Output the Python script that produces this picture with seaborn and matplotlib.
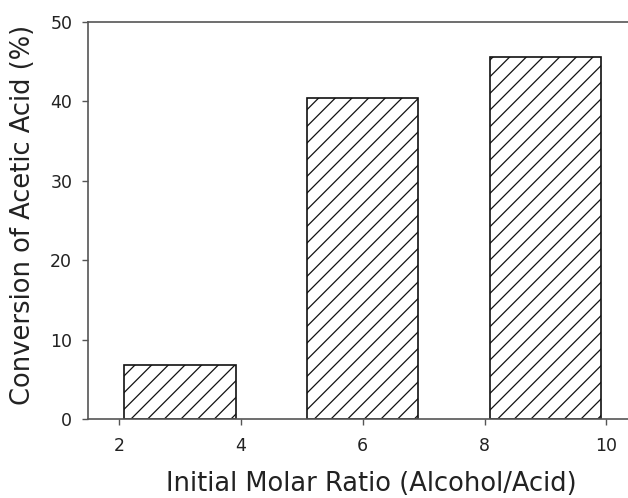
import matplotlib
matplotlib.use("Agg")
import matplotlib.pyplot as plt
import seaborn as sns
import pandas as pd

ratio = [3, 6, 9]
conversion = [6.8, 40.4, 45.6]
xticks = [2, 4, 6, 8, 10]
yticks = [0, 10, 20, 30, 40, 50]

sns.set_style("white")
plt.rcParams['font.family'] = ['DejaVu Sans']
plt.rcParams['hatch.linewidth'] = 0.9
plt.rcParams['hatch.color'] = '#222222'

df = pd.DataFrame({"ratio": ratio, "conversion": conversion})

fig = plt.figure(figsize=(6.28, 4.98), dpi=100)
ax = fig.add_axes([0.140, 0.1586, 0.903, 0.797])

sns.barplot(data=df, x="ratio", y="conversion", native_scale=True, width=0.61,
            color="white", saturation=1, edgecolor="#111111", linewidth=1.2,
            hatch="//", errorbar=None, ax=ax)

ax.set_xlim(1.486, 10.80)
ax.set_ylim(0, 50)
ax.set_xticks(xticks)
ax.set_yticks(yticks)
ax.set_xticklabels([str(v) for v in xticks])
ax.set_yticklabels([str(v) for v in yticks])

for s in ["left", "bottom", "top"]:
    ax.spines[s].set_color("#555555")
    ax.spines[s].set_linewidth(1.2)
ax.spines["right"].set_visible(False)

ax.tick_params(axis="both", which="major", direction="out", length=4.3, width=1,
               color="#555555", labelsize=12.5, labelcolor="#222222",
               bottom=True, left=True)
ax.tick_params(axis="x", pad=8.5)
ax.tick_params(axis="y", pad=7)

ax.set_xlabel("Initial Molar Ratio (Alcohol/Acid)", fontsize=18.5, color="#222222", labelpad=12)
ax.set_ylabel("Conversion of Acetic Acid (%)", fontsize=18.5, color="#222222")
ax.yaxis.set_label_coords(-0.092, 0.514)

fig.savefig("out.png", dpi=100)
